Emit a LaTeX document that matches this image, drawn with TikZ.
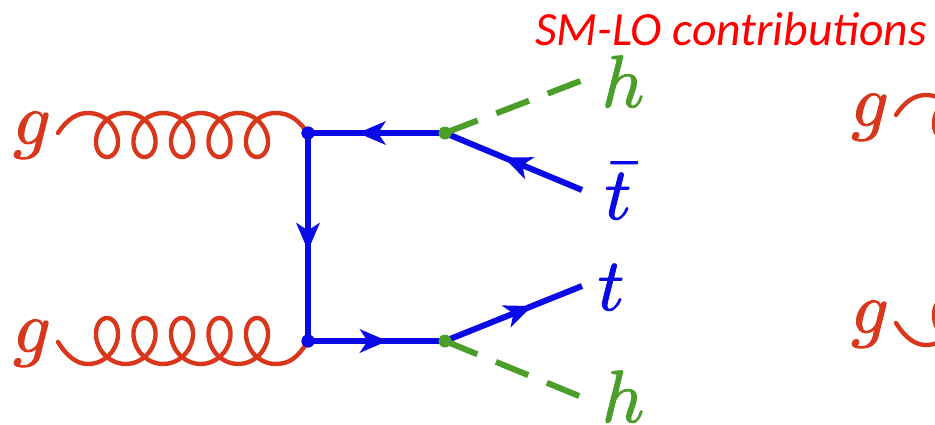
\documentclass[tikz,border=0pt]{standalone}
\usepackage{fontspec}
\usetikzlibrary{arrows.meta,decorations.markings}
\newfontfamily\calib{Carlito}
\definecolor{gluonred}{HTML}{D9371C}
\definecolor{higgsgreen}{HTML}{4C9E2A}
\definecolor{quarkblue}{HTML}{0A0AE6}
\newcommand{\heavy}[1]{\special{pdf:code q 2 Tr 0.13 w}#1\special{pdf:code Q}}
\tikzset{
  fermion/.style={draw=quarkblue,line width=6pt,postaction={decorate},
    decoration={markings,mark=at position #1 with {\arrow[quarkblue,line width=0pt]{Stealth[length=28pt,width=24pt,inset=8pt]}}}},
  higgsline/.style={draw=higgsgreen,line width=6pt,dash pattern=on 35pt off 20pt},
  gluonline/.style={draw=gluonred,line width=4.4pt,line cap=round,line join=round},
  vtxblue/.style={circle,fill=quarkblue,inner sep=0pt,minimum size=13pt},
  vtxgreen/.style={circle,fill=higgsgreen,inner sep=0pt,minimum size=13pt},
  lab/.style={inner sep=0pt,scale=7.4},
}
\newcommand{\gluonpath}[3]{%
  plot[domain=-0.5:4.5,samples=241,variable=\u]
   ({#1+107+37.5*\u-19.5*sin(360*\u)},{#2+#3*cos(360*\u)})}
\begin{document}
\begin{tikzpicture}[x=1pt,y=-1pt]
\useasboundingbox (0,0) rectangle (935,424);
\fill[white] (0,0) rectangle (935,424);
\coordinate (g1s) at (58,133);
\coordinate (g1a) at (88,113);
\coordinate (g2s) at (58,342);
\coordinate (g2a) at (88,364);
\coordinate (g3s) at (896,115);
\coordinate (g3a) at (926,95);
\coordinate (g4s) at (896,323);
\coordinate (g4a) at (926,345);
\node[vtxblue] (v1) at (308,133) {};
\node[vtxblue] (v2) at (308,341) {};
\coordinate (v3c) at (445,133);
\coordinate (v4c) at (445,341);
\coordinate (hte) at (583,80);
\coordinate (tbe) at (582,190);
\coordinate (te) at (582,286);
\coordinate (hbe) at (584,398);
% gluons
\draw[gluonline] (g1s) .. controls (68,118) and (78,113) .. (g1a) \gluonpath{0}{135}{22} .. controls (290,113) and (298,120) .. (v1.center);
\draw[gluonline] (g2s) .. controls (68,358) and (78,364) .. (g2a) \gluonpath{0}{341}{-23} .. controls (290,364) and (298,357) .. (v2.center);
\begin{scope}
\clip (0,0) rectangle (935,424);
\draw[gluonline] (g3s) .. controls (906,100) and (916,95) .. (g3a) \gluonpath{838}{117}{22};
\draw[gluonline] (g4s) .. controls (906,339) and (916,345) .. (g4a) \gluonpath{838}{322}{-23};
\end{scope}
% fermions
\path[fermion=0.565] (v1.center) -- (v2.center);
\path[fermion=0.635] (v3c) -- (v1.center);
\path[fermion=0.58] (v2.center) -- (v4c);
\path[fermion=0.57] (tbe) -- (v3c);
\path[fermion=0.635] (v4c) -- (te);
% higgs
\path[higgsline] (v3c) -- (hte);
\path[higgsline] (v4c) -- (hbe);
\node[vtxblue] at (v1) {};
\node[vtxblue] at (v2) {};
\node[vtxgreen] (v3) at (v3c) {};
\node[vtxgreen] (v4) at (v4c) {};
% labels
\node[lab,text=gluonred,anchor=base] (lg1) at (32,144) {\heavy{$g$}};
\node[lab,text=gluonred,anchor=base] (lg2) at (32,352) {\heavy{$g$}};
\node[lab,text=gluonred,anchor=base] (lg3) at (870,126) {\heavy{$g$}};
\node[lab,text=gluonred,anchor=base] (lg4) at (870,333) {\heavy{$g$}};
\node[lab,text=higgsgreen,anchor=base] (lh1) at (623,107) {\heavy{$h$}};
\node[lab,text=higgsgreen,anchor=base] (lh2) at (623,422) {\heavy{$h$}};
\node[lab,text=quarkblue,anchor=base] (ltb) at (618,219) {\heavy{$\bar{t}$}};
\node[lab,text=quarkblue,anchor=base] (lt) at (611,310) {\heavy{$t$}};
\node[inner sep=0pt,anchor=base west,text=red,font=\fontsize{47.7}{50}\calib\itshape] (title) at (535,45) {SM-LO contributions};
\end{tikzpicture}
\end{document}
